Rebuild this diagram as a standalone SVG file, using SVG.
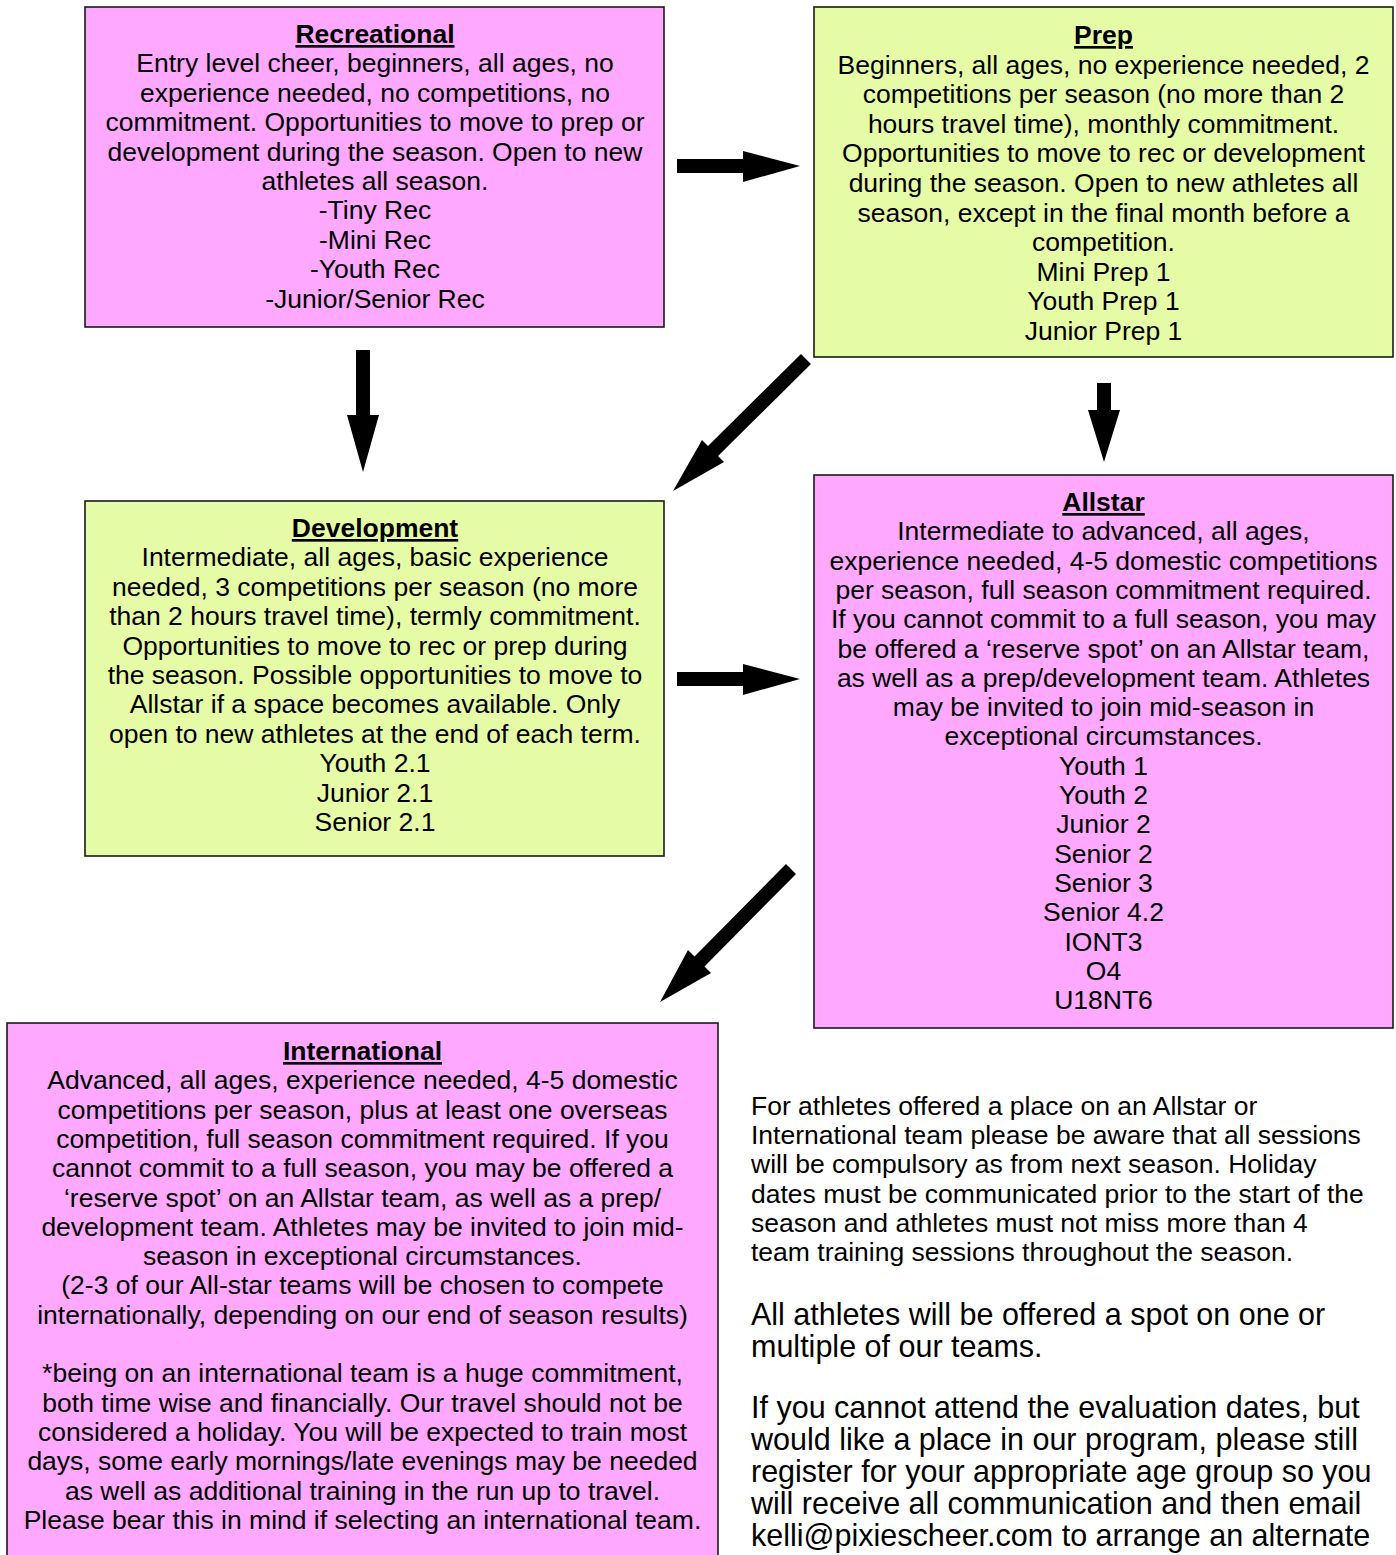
<svg xmlns="http://www.w3.org/2000/svg" width="1396" height="1555" viewBox="0 0 1396 1555">
<style>
.pink{fill:#FFA8FF;stroke:#1a1a1a;stroke-width:1.6}
.green{fill:#E6FBA6;stroke:#1a1a1a;stroke-width:1.6}
.t{font-family:"Liberation Sans",Arial,sans-serif;font-size:26.5px;fill:#000;text-anchor:middle}
.h{font-weight:bold;text-decoration:underline}
.n{font-family:"Liberation Sans",Arial,sans-serif;font-size:26.5px;fill:#000}
.n2{font-family:"Liberation Sans",Arial,sans-serif;font-size:30.5px;fill:#000}
.arrow{fill:#000}
</style>
<rect width="1396" height="1555" fill="#fff"/>
<g id="recreational">
<rect class="pink" x="85" y="7" width="579" height="320"/>
<text class="t"><tspan class="h" x="375" y="43">Recreational</tspan><tspan x="375" y="72.4">Entry level cheer, beginners, all ages, no</tspan><tspan x="375" y="101.8">experience needed, no competitions, no</tspan><tspan x="375" y="131.2">commitment. Opportunities to move to prep or</tspan><tspan x="375" y="160.6">development during the season. Open to new</tspan><tspan x="375" y="190">athletes all season.</tspan><tspan x="375" y="219.4">-Tiny Rec</tspan><tspan x="375" y="248.8">-Mini Rec</tspan><tspan x="375" y="278.2">-Youth Rec</tspan><tspan x="375" y="307.6">-Junior/Senior Rec</tspan></text>
</g>
<g id="prep">
<rect class="green" x="814" y="7" width="579" height="350"/>
<text class="t"><tspan class="h" x="1103.5" y="44">Prep</tspan><tspan x="1103.5" y="73.6">Beginners, all ages, no experience needed, 2</tspan><tspan x="1103.5" y="103.2">competitions per season (no more than 2</tspan><tspan x="1103.5" y="132.8">hours travel time), monthly commitment.</tspan><tspan x="1103.5" y="162.4">Opportunities to move to rec or development</tspan><tspan x="1103.5" y="192">during the season. Open to new athletes all</tspan><tspan x="1103.5" y="221.6">season, except in the final month before a</tspan><tspan x="1103.5" y="251.2">competition.</tspan><tspan x="1103.5" y="280.8">Mini Prep 1</tspan><tspan x="1103.5" y="310.4">Youth Prep 1</tspan><tspan x="1103.5" y="340">Junior Prep 1</tspan></text>
</g>
<g id="development">
<rect class="green" x="85" y="501" width="579" height="355"/>
<text class="t"><tspan class="h" x="375" y="537">Development</tspan><tspan x="375" y="566.4">Intermediate, all ages, basic experience</tspan><tspan x="375" y="595.8">needed, 3 competitions per season (no more</tspan><tspan x="375" y="625.2">than 2 hours travel time), termly commitment.</tspan><tspan x="375" y="654.6">Opportunities to move to rec or prep during</tspan><tspan x="375" y="684">the season. Possible opportunities to move to</tspan><tspan x="375" y="713.4">Allstar if a space becomes available. Only</tspan><tspan x="375" y="742.8">open to new athletes at the end of each term.</tspan><tspan x="375" y="772.2">Youth 2.1</tspan><tspan x="375" y="801.6">Junior 2.1</tspan><tspan x="375" y="831">Senior 2.1</tspan></text>
</g>
<g id="allstar">
<rect class="pink" x="814" y="475" width="579" height="553"/>
<text class="t"><tspan class="h" x="1103.5" y="511">Allstar</tspan><tspan x="1103.5" y="540.3">Intermediate to advanced, all ages,</tspan><tspan x="1103.5" y="569.6">experience needed, 4-5 domestic competitions</tspan><tspan x="1103.5" y="598.9">per season, full season commitment required.</tspan><tspan x="1103.5" y="628.2">If you cannot commit to a full season, you may</tspan><tspan x="1103.5" y="657.5">be offered a ‘reserve spot’ on an Allstar team,</tspan><tspan x="1103.5" y="686.8">as well as a prep/development team. Athletes</tspan><tspan x="1103.5" y="716.1">may be invited to join mid-season in</tspan><tspan x="1103.5" y="745.4">exceptional circumstances.</tspan><tspan x="1103.5" y="774.7">Youth 1</tspan><tspan x="1103.5" y="804">Youth 2</tspan><tspan x="1103.5" y="833.3">Junior 2</tspan><tspan x="1103.5" y="862.6">Senior 2</tspan><tspan x="1103.5" y="891.9">Senior 3</tspan><tspan x="1103.5" y="921.2">Senior 4.2</tspan><tspan x="1103.5" y="950.5">IONT3</tspan><tspan x="1103.5" y="979.8">O4</tspan><tspan x="1103.5" y="1009">U18NT6</tspan></text>
</g>
<g id="international">
<rect class="pink" x="7" y="1023" width="711" height="540"/>
<text class="t"><tspan class="h" x="362.5" y="1060">International</tspan><tspan x="362.5" y="1089.3">Advanced, all ages, experience needed, 4-5 domestic</tspan><tspan x="362.5" y="1118.6">competitions per season, plus at least one overseas</tspan><tspan x="362.5" y="1147.9">competition, full season commitment required. If you</tspan><tspan x="362.5" y="1177.2">cannot commit to a full season, you may be offered a</tspan><tspan x="362.5" y="1206.5">‘reserve spot’ on an Allstar team, as well as a prep/</tspan><tspan x="362.5" y="1235.8">development team. Athletes may be invited to join mid-</tspan><tspan x="362.5" y="1265.1">season in exceptional circumstances.</tspan><tspan x="362.5" y="1294.4">(2-3 of our All-star teams will be chosen to compete</tspan><tspan x="362.5" y="1323.7">internationally, depending on our end of season results)</tspan><tspan x="362.5" y="1382.3">*being on an international team is a huge commitment,</tspan><tspan x="362.5" y="1411.6">both time wise and financially. Our travel should not be</tspan><tspan x="362.5" y="1440.9">considered a holiday. You will be expected to train most</tspan><tspan x="362.5" y="1470.2">days, some early mornings/late evenings may be needed</tspan><tspan x="362.5" y="1499.5">as well as additional training in the run up to travel.</tspan><tspan x="362.5" y="1528.8">Please bear this in mind if selecting an international team.</tspan></text>
</g>
<g id="notes">
<text class="n"><tspan x="751" y="1115">For athletes offered a place on an Allstar or</tspan><tspan x="751" y="1144.2">International team please be aware that all sessions</tspan><tspan x="751" y="1173.4">will be compulsory as from next season. Holiday</tspan><tspan x="751" y="1202.6">dates must be communicated prior to the start of the</tspan><tspan x="751" y="1231.8">season and athletes must not miss more than 4</tspan><tspan x="751" y="1261">team training sessions throughout the season.</tspan></text>
<text class="n2"><tspan x="751" y="1325">All athletes will be offered a spot on one or</tspan><tspan x="751" y="1357">multiple of our teams.</tspan></text>
<text class="n2"><tspan x="751" y="1418">If you cannot attend the evaluation dates, but</tspan><tspan x="751" y="1450">would like a place in our program, please still</tspan><tspan x="751" y="1482">register for your appropriate age group so you</tspan><tspan x="751" y="1514">will receive all communication and then email</tspan><tspan x="751" y="1546">kelli@pixiescheer.com to arrange an alternate</tspan></text>
</g>
<g id="connectors">
<polygon class="arrow" points="677,159 743,159 743,151 800,166 743,182 743,173 677,173"/>
<polygon class="arrow" points="356,350 370,350 370,415 379,415 363,472 347,415 356,415"/>
<polygon class="arrow" points="801,354 811,364 718,456 724,462 673,491 702,440 708,446"/>
<polygon class="arrow" points="1097,383 1111,383 1111,410 1120,410 1104,462 1088,410 1097,410"/>
<polygon class="arrow" points="677,672 743,672 743,664 800,679 743,695 743,686 677,686"/>
<polygon class="arrow" points="786,864 796,874 704.5,966.5 711,973 660,1002 688,950 694.5,956.5"/>
</g>
</svg>
